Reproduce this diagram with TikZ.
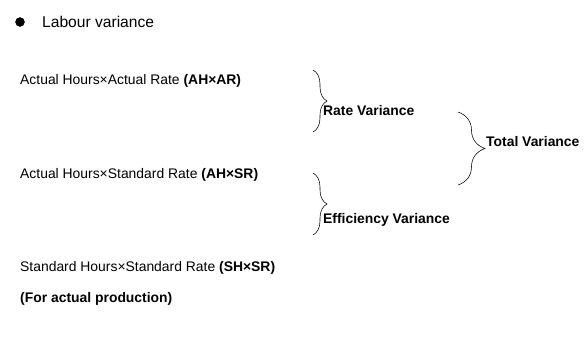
\documentclass[tikz,border=0pt]{standalone}
\usepackage{fontspec}
\setmainfont{Liberation Sans}
\usetikzlibrary{positioning,decorations.pathreplacing}

\begin{document}
\begin{tikzpicture}[x=1pt, y=-1pt, line/.style = {anchor=base west, inner sep=0pt, font=\fontsize{13.9}{16}\selectfont}, result/.style = {line, font=\fontsize{13.9}{16}\selectfont\bfseries}, curly/.style = {decorate, decoration={brace, amplitude=#1}, line width=0.55pt}]
\useasboundingbox (0,0) rectangle (587,360);

% heading
\filldraw[black] (20,22) circle (4.5) coordinate (dot);
\node[line, font=\fontsize{15.6}{18}\selectfont] (head) at (42,27) {Labour variance};

% the three products
\node[line] (ahar) at (20,84) {Actual Hours×Actual Rate \textbf{(AH×AR)}};
\node[line] (ahsr) at (20,178) {Actual Hours×Standard Rate \textbf{(AH×SR)}};
\node[line] (shsr) at (20,271) {Standard Hours×Standard Rate \textbf{(SH×SR)}};
\node[result] (prod) at (20,302) {(For actual production)};

% braces
\coordinate (r1) at (313,70);
\coordinate (r2) at (313,132);
\coordinate (e1) at (313,173);
\coordinate (e2) at (313,235);
\coordinate (t1) at (458,112);
\coordinate (t2) at (458,185);
\draw[curly=14] (r1) -- (r2);
\draw[curly=14] (e1) -- (e2);
\draw[curly=27] (t1) -- (t2);

\node[result] (rate) at (323,115) {Rate Variance};
\node[result] (eff) at (323,223) {Efficiency Variance};
\node[result] (total) at (486,146) {Total Variance};
\end{tikzpicture}
\end{document}
